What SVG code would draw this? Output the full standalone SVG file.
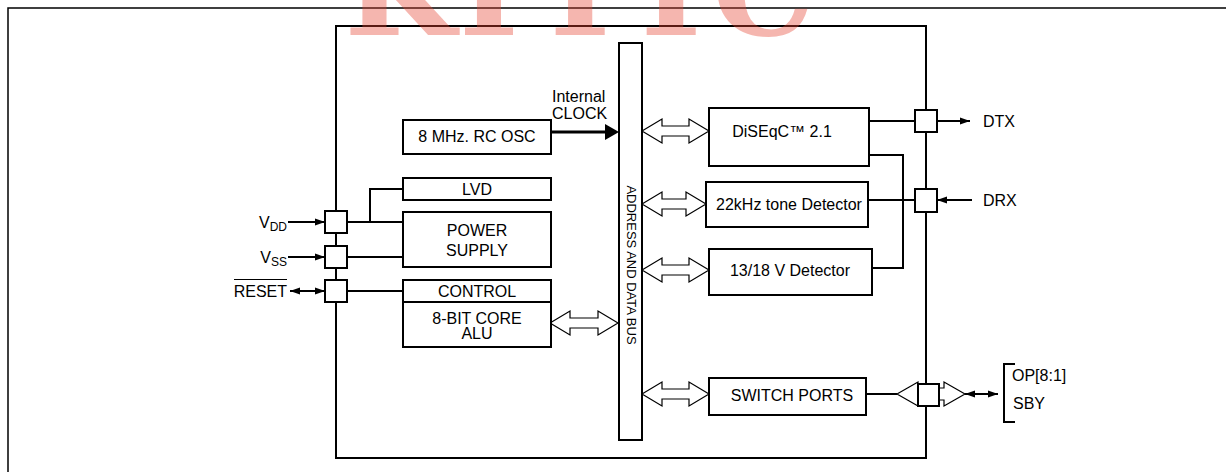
<svg xmlns="http://www.w3.org/2000/svg" width="1226" height="472" viewBox="0 0 1226 472">
<style>
.box{fill:#fff;stroke:#000;stroke-width:2}
.pad{fill:#fff;stroke:#000;stroke-width:2}
.ln{fill:none;stroke:#000;stroke-width:2}
.hol{fill:#fff;stroke:#000;stroke-width:1.2}
.t{font-family:"Liberation Sans",Arial,sans-serif;font-size:16px;fill:#000}
.c{text-anchor:middle}
.wm{font-family:"DejaVu Serif",serif;font-weight:bold;font-size:128px;fill:rgb(230,66,48);fill-opacity:0.39;text-anchor:middle}
</style>
<defs>
<marker id="ah" markerUnits="userSpaceOnUse" markerWidth="10" markerHeight="8" refX="10" refY="4" orient="auto-start-reverse">
<path d="M0,0.5 L10,4 L0,7.5 z" fill="#000"/>
</marker>
</defs>
<rect width="1226" height="472" fill="#fff"/>
<path d="M8,472 V8 H1226" fill="none" stroke="#000" stroke-width="1.5"/>
<rect x="336" y="26" width="590" height="432" class="ln"/>

<g id="connectors">
<path class="ln" d="M347,222 H403 M370,222 V189 H403"/>
<path class="ln" d="M347,257 H403"/>
<path class="ln" d="M347,291 H403"/>
<path class="ln" d="M288,222 H325" marker-end="url(#ah)"/>
<path class="ln" d="M288,257 H325" marker-end="url(#ah)"/>
<path class="ln" d="M290,291 H325" marker-start="url(#ah)" marker-end="url(#ah)"/>
<path class="ln" d="M869,121 H915"/>
<path class="ln" d="M937,121 H970" marker-end="url(#ah)"/>
<path class="ln" d="M869,155 H903 V268 H872"/>
<path class="ln" d="M868,200 H915"/>
<path class="ln" d="M972,200 H937" marker-end="url(#ah)"/>
<path class="ln" d="M866,394 H897"/>
<path class="ln" d="M965,394 H998" marker-start="url(#ah)" marker-end="url(#ah)"/>
<path class="ln" d="M1015,364 H1004 V422 H1015"/>
<path d="M552,132 H606" stroke="#000" stroke-width="3"/>
<path d="M605,124 L619,132 L605,140 z" fill="#000"/>
<path class="hol" d="M550,323 L570,311 L570,318 L598,318 L598,311 L618,323 L598,335 L598,328 L570,328 L570,335 z"/>
<path class="hol" d="M642,131 L662,119 L662,126 L689,126 L689,119 L709,131 L689,143 L689,136 L662,136 L662,143 z"/>
<path class="hol" d="M642,204 L662,192 L662,199 L686,199 L686,192 L706,204 L686,216 L686,209 L662,209 L662,216 z"/>
<path class="hol" d="M642,270 L662,258 L662,265 L689,265 L689,258 L709,270 L689,282 L689,275 L662,275 L662,282 z"/>
<path class="hol" d="M642,394 L662,382 L662,389 L689,389 L689,382 L709,394 L689,406 L689,399 L662,399 L662,406 z"/>
<path class="hol" d="M897,394 L918,382 L918,388 L944,388 L944,382 L965,394 L944,406 L944,400 L918,400 L918,406 z"/>
</g>

<g id="bus">
<rect x="619" y="43" width="23" height="397" class="box"/>
<text class="t c" style="font-size:13px" transform="translate(627,265) rotate(90)">ADDRESS AND DATA BUS</text>
</g>

<g id="osc">
<rect x="403" y="120" width="148" height="34" class="box"/>
<text class="t c" x="477" y="142">8 MHz. RC OSC</text>
</g>
<g id="clock-label">
<text class="t" x="552" y="102">Internal</text>
<text class="t" x="552" y="119">CLOCK</text>
</g>
<g id="lvd">
<rect x="403" y="178" width="148" height="22" class="box"/>
<text class="t c" x="477" y="195">LVD</text>
</g>
<g id="power">
<rect x="403" y="212" width="148" height="55" class="box"/>
<text class="t c" x="477" y="236">POWER</text>
<text class="t c" x="477" y="256">SUPPLY</text>
</g>
<g id="control">
<rect x="403" y="280" width="148" height="22" class="box"/>
<text class="t c" x="477" y="297">CONTROL</text>
</g>
<g id="alu">
<rect x="403" y="302" width="148" height="45" class="box"/>
<text class="t c" x="477" y="324">8-BIT CORE</text>
<text class="t c" x="477" y="339">ALU</text>
</g>

<g id="pad-vdd">
<rect x="325" y="211" width="22" height="22" class="pad"/>
<text class="t" x="287" y="228" text-anchor="end">V<tspan style="font-size:12px" dy="3">DD</tspan></text>
</g>
<g id="pad-vss">
<rect x="325" y="246" width="22" height="22" class="pad"/>
<text class="t" x="287" y="263" text-anchor="end">V<tspan style="font-size:12px" dy="3">SS</tspan></text>
</g>
<g id="pad-reset">
<rect x="325" y="280" width="22" height="22" class="pad"/>
<text class="t" x="287" y="297" text-anchor="end">RESET</text>
<line x1="234" y1="279.5" x2="287" y2="279.5" stroke="#000" stroke-width="1"/>
</g>

<g id="diseqc">
<rect x="709" y="108" width="160" height="58" class="box"/>
<text class="t c" x="782" y="137">DiSEqC™ 2.1</text>
</g>
<g id="tone">
<rect x="706" y="182" width="162" height="45" class="box"/>
<text class="t c" x="789" y="210">22kHz tone Detector</text>
</g>
<g id="v1318">
<rect x="709" y="249" width="163" height="46" class="box"/>
<text class="t c" x="790" y="276">13/18 V Detector</text>
</g>
<g id="switch">
<rect x="709" y="378" width="157" height="37" class="box"/>
<text class="t c" x="792" y="401">SWITCH PORTS</text>
</g>

<g id="pad-dtx">
<rect x="915" y="110" width="22" height="22" class="pad"/>
<text class="t" x="983" y="127">DTX</text>
</g>
<g id="pad-drx">
<rect x="915" y="189" width="22" height="23" class="pad"/>
<text class="t" x="983" y="206">DRX</text>
</g>
<g id="pad-sw">
<rect x="918" y="384" width="21" height="22" class="pad"/>
<text class="t" x="1012" y="381">OP[8:1]</text>
<text class="t" x="1013" y="409">SBY</text>
</g>

<g id="watermark">
<text class="wm" x="400" y="35">K</text>
<text class="wm" x="489" y="35">I</text>
<text class="wm" x="580" y="35">T</text>
<text class="wm" x="671" y="35">T</text>
<text class="wm" x="763" y="35">C</text>
</g>
</svg>
